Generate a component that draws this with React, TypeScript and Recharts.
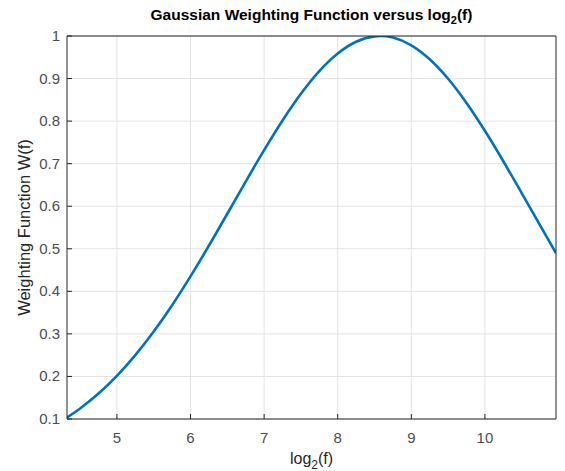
import { LineChart, Line, XAxis, YAxis, CartesianGrid, Label } from "recharts"

// log2(f) samples from 20 Hz to 2000 Hz and the weight at each
const logFreq = [
  4.3219, 4.5, 4.75, 5, 5.25, 5.5, 5.75, 6, 6.25, 6.5, 6.75, 7, 7.25, 7.5, 7.75,
  8, 8.25, 8.5, 8.58, 8.75, 9, 9.25, 9.5, 9.75, 10, 10.25, 10.5, 10.75, 10.9658,
]
const weight = [
  0.1035, 0.1248, 0.1598, 0.2015, 0.25, 0.3055, 0.3675, 0.4352, 0.5073, 0.5823,
  0.658, 0.7319, 0.8016, 0.8643, 0.9175, 0.9588, 0.9865, 0.9992, 1, 0.9964,
  0.9782, 0.9454, 0.8996, 0.8427, 0.7772, 0.7057, 0.6308, 0.5551, 0.4897,
]
const xTicks = [5, 6, 7, 8, 9, 10]
const yTicks = [0.1, 0.2, 0.3, 0.4, 0.5, 0.6, 0.7, 0.8, 0.9, 1]

const data = logFreq.map((x, i) => ({ x, w: weight[i] }))

const FONT = "'Liberation Sans', Arial, Helvetica, sans-serif"
const AXIS = "#262626"
const TICK_TEXT = "#4d4d4d"

function XTick({ x, y, payload }: any) {
  return (
    <text x={x} y={y + 14} textAnchor="middle" fontSize={15} fill={TICK_TEXT} fontFamily={FONT}>
      {payload.value}
    </text>
  )
}

function YTick({ x, y, payload }: any) {
  return (
    <text x={x} y={y + 5} textAnchor="end" fontSize={15} fill={TICK_TEXT} fontFamily={FONT}>
      {payload.value}
    </text>
  )
}

function XLabel({ viewBox }: any) {
  const cx = viewBox.x + viewBox.width / 2
  return (
    <text x={cx} y={464} textAnchor="middle" fontSize={16} fill={AXIS} fontFamily={FONT}>
      log
      <tspan fontSize={12} dy={5}>2</tspan>
      <tspan dy={-5}>(f)</tspan>
    </text>
  )
}

export default function App() {
  return (
    <div style={{ position: "absolute", left: 0, top: 0, width: 565, height: 471, background: "#fff" }}>
      <div
        style={{
          position: "absolute",
          left: 67,
          width: 489,
          top: 6,
          textAlign: "center",
          fontFamily: FONT,
          fontWeight: "bold",
          fontSize: 15.5,
          color: "#000",
          lineHeight: "18px",
        }}
      >
        Gaussian Weighting Function versus log<sub style={{ fontSize: 11 }}>2</sub>(f)
      </div>
      <LineChart width={565} height={471} data={data} margin={{ top: 35, right: 8, left: 0, bottom: 0 }}>
        <CartesianGrid stroke="#e3e3e3" horizontalValues={yTicks} verticalValues={xTicks} />
        <XAxis
          dataKey="x"
          type="number"
          domain={[4.3219, 10.9658]}
          ticks={xTicks}
          allowDataOverflow
          height={52}
          tickSize={-5}
          tickMargin={15}
          tick={<XTick />}
          stroke={AXIS}
          tickLine={{ stroke: AXIS }}
          label={<XLabel />}
        />
        <XAxis
          xAxisId="top"
          orientation="top"
          dataKey="x"
          type="number"
          domain={[4.3219, 10.9658]}
          ticks={xTicks}
          allowDataOverflow
          height={1}
          tickSize={-5}
          tick={false}
          stroke={AXIS}
          tickLine={{ stroke: AXIS }}
        />
        <YAxis
          type="number"
          domain={[0.1, 1]}
          ticks={yTicks}
          allowDataOverflow
          width={67}
          tickSize={-5}
          tickMargin={12}
          tick={<YTick />}
          stroke={AXIS}
          tickLine={{ stroke: AXIS }}
        >
          <Label
            value="Weighting Function W(f)"
            angle={-90}
            position="insideLeft"
            offset={24}
            style={{ fontSize: 16.5, fill: AXIS, fontFamily: FONT, textAnchor: "middle" }}
          />
        </YAxis>
        <YAxis
          yAxisId="right"
          orientation="right"
          type="number"
          domain={[0.1, 1]}
          ticks={yTicks}
          allowDataOverflow
          width={1}
          tickSize={-5}
          tick={false}
          stroke={AXIS}
          tickLine={{ stroke: AXIS }}
        />
        <Line
          type="monotone"
          dataKey="w"
          stroke="#0072BD"
          strokeWidth={2.6}
          dot={false}
          isAnimationActive={false}
        />
      </LineChart>
    </div>
  )
}
